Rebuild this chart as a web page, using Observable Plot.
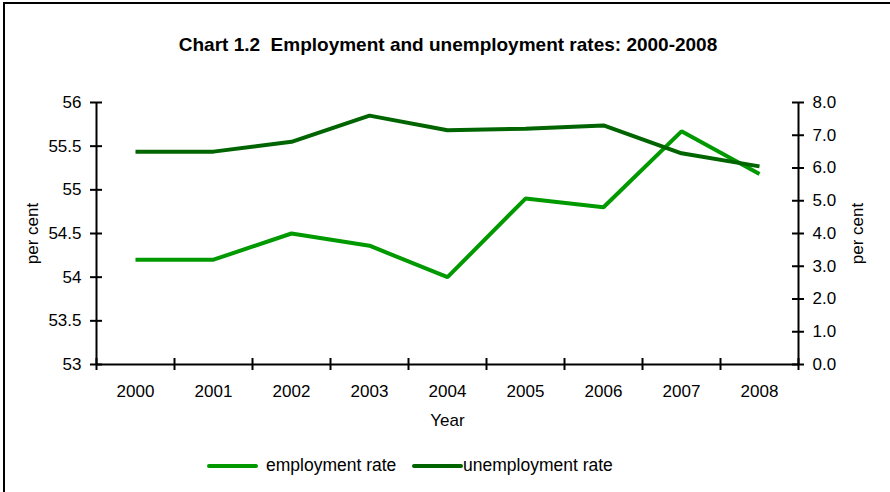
<!DOCTYPE html>
<html>
<head>
<meta charset="utf-8">
<script src="https://cdn.jsdelivr.net/npm/d3@7"></script>
<script src="https://cdn.jsdelivr.net/npm/@observablehq/plot@0.6"></script>
<style>
  html, body { margin: 0; padding: 0; background: #fff; }
  #chart { position: relative; width: 890px; height: 492px; overflow: hidden; font-family: "Liberation Sans", Arial, Helvetica, sans-serif; color: #000; }
  #frame { position: absolute; left: 3px; top: 2px; width: 900px; height: 600px; border-left: 2px solid #000; border-top: 2px solid #000; box-sizing: border-box; }
  #title { position: absolute; left: 0; top: 34px; width: 896px; text-align: center; font-weight: bold; font-size: 19px; white-space: pre; line-height: 22px; }
  #plot { position: absolute; left: 0; top: 70px; }
  #legend { position: absolute; top: 454px; left: 0; width: 890px; height: 24px; font-size: 17.5px; }
  .sw { position: absolute; top: 10px; height: 4px; border-radius: 2px; }
  .lt { position: absolute; top: 0px; line-height: 22px; white-space: pre; }
</style>
</head>
<body>
<div id="chart">
  <div id="frame"></div>
  <div id="title"></div>
  <div id="plot"></div>
  <div id="legend"></div>
</div>
<script>
const titleText = "Chart 1.2  Employment and unemployment rates: 2000-2008";
const years = [2000, 2001, 2002, 2003, 2004, 2005, 2006, 2007, 2008];
const employment = [54.2, 54.2, 54.5, 54.36, 54.0, 54.9, 54.8, 55.67, 55.18];
const unemployment = [6.5, 6.5, 6.8, 7.6, 7.15, 7.2, 7.3, 6.45, 6.05];
const leftTicks = [53, 53.5, 54, 54.5, 55, 55.5, 56];
const leftTickLabels = ["53", "53.5", "54", "54.5", "55", "55.5", "56"];
const rightTicks = [0, 1, 2, 3, 4, 5, 6, 7, 8];
const rightTickLabels = ["0.0", "1.0", "2.0", "3.0", "4.0", "5.0", "6.0", "7.0", "8.0"];
const seriesNames = ["employment rate", "unemployment rate"];
const seriesColors = ["#009a00", "#006400"];
const yAxisLabel = "per cent";
const xAxisLabel = "Year";

document.getElementById("title").textContent = titleText;

// right axis values mapped onto left scale domain
const leftMin = 53, leftMax = 56, rightMin = 0, rightMax = 8;
const toLeft = v => leftMin + (v - rightMin) * (leftMax - leftMin) / (rightMax - rightMin);

const empData = years.map((y, i) => ({year: y, value: employment[i]}));
const unData = years.map((y, i) => ({year: y, value: toLeft(unemployment[i])}));
const bandEdges = d3.range(years.length + 1).map(i => years[0] - 0.5 + i);
const xMin = bandEdges[0], xMax = bandEdges[bandEdges.length - 1];
const rightTickPos = rightTicks.map(toLeft);
const FS = 17;

const plot = Plot.plot({
  width: 890,
  height: 370,
  marginLeft: 96,
  marginRight: 92,
  marginTop: 32,
  marginBottom: 76,
  style: {fontFamily: "'Liberation Sans', Arial, Helvetica, sans-serif", fontSize: FS + "px", color: "#000", background: "transparent"},
  x: {type: "linear", domain: [xMin, xMax]},
  y: {domain: [leftMin, leftMax]},
  marks: [
    // axis lines
    Plot.ruleY([leftMin], {x1: xMin, x2: xMax, stroke: "#000", strokeWidth: 2}),
    Plot.ruleX([xMin, xMax], {y1: leftMin, y2: leftMax, stroke: "#000", strokeWidth: 2}),
    // crossing ticks
    Plot.ruleX(bandEdges, {y1: leftMin, y2: leftMin, insetTop: -6, insetBottom: -6, stroke: "#000", strokeWidth: 2}),
    Plot.ruleY(leftTicks, {x1: xMin, x2: xMin, insetLeft: -6, insetRight: -6, stroke: "#000", strokeWidth: 2}),
    Plot.ruleY(rightTickPos, {x1: xMax, x2: xMax, insetLeft: -6, insetRight: -6, stroke: "#000", strokeWidth: 2}),
    // tick labels
    Plot.axisY({anchor: "left", ticks: leftTicks, tickSize: 0, tickPadding: 15, label: null, fontSize: FS,
      tickFormat: d => leftTickLabels[leftTicks.indexOf(d)]}),
    Plot.axisY({anchor: "right", ticks: rightTickPos, tickSize: 0, tickPadding: 14, label: null, fontSize: FS,
      tickFormat: d => rightTickLabels[rightTickPos.indexOf(d)]}),
    Plot.axisX({anchor: "bottom", ticks: years, tickSize: 0, tickPadding: 20, label: null, fontSize: FS,
      tickFormat: d => String(d)}),
    // axis titles
    Plot.text([yAxisLabel], {frameAnchor: "left", textAnchor: "middle", lineAnchor: "middle", rotate: -90, dx: -64, fontSize: FS}),
    Plot.text([yAxisLabel], {frameAnchor: "right", textAnchor: "middle", lineAnchor: "middle", rotate: -90, dx: 59, fontSize: FS}),
    Plot.text([xAxisLabel], {frameAnchor: "bottom", lineAnchor: "middle", dy: 56, fontSize: FS}),
    // series
    Plot.line(empData, {x: "year", y: "value", stroke: seriesColors[0], strokeWidth: 4, strokeLinejoin: "miter", strokeLinecap: "butt"}),
    Plot.line(unData, {x: "year", y: "value", stroke: seriesColors[1], strokeWidth: 4, strokeLinejoin: "miter", strokeLinecap: "butt"})
  ]
});
document.getElementById("plot").appendChild(plot);

// legend
const legend = document.getElementById("legend");
const legendLayout = [{sx: 207, tx: 266}, {sx: 412, tx: 463}];
seriesNames.forEach((name, i) => {
  const sw = document.createElement("div");
  sw.className = "sw";
  sw.style.left = legendLayout[i].sx + "px";
  sw.style.width = "51px";
  sw.style.background = seriesColors[i];
  legend.appendChild(sw);
  const t = document.createElement("div");
  t.className = "lt";
  t.style.left = legendLayout[i].tx + "px";
  t.textContent = name;
  legend.appendChild(t);
});
</script>
</body>
</html>
